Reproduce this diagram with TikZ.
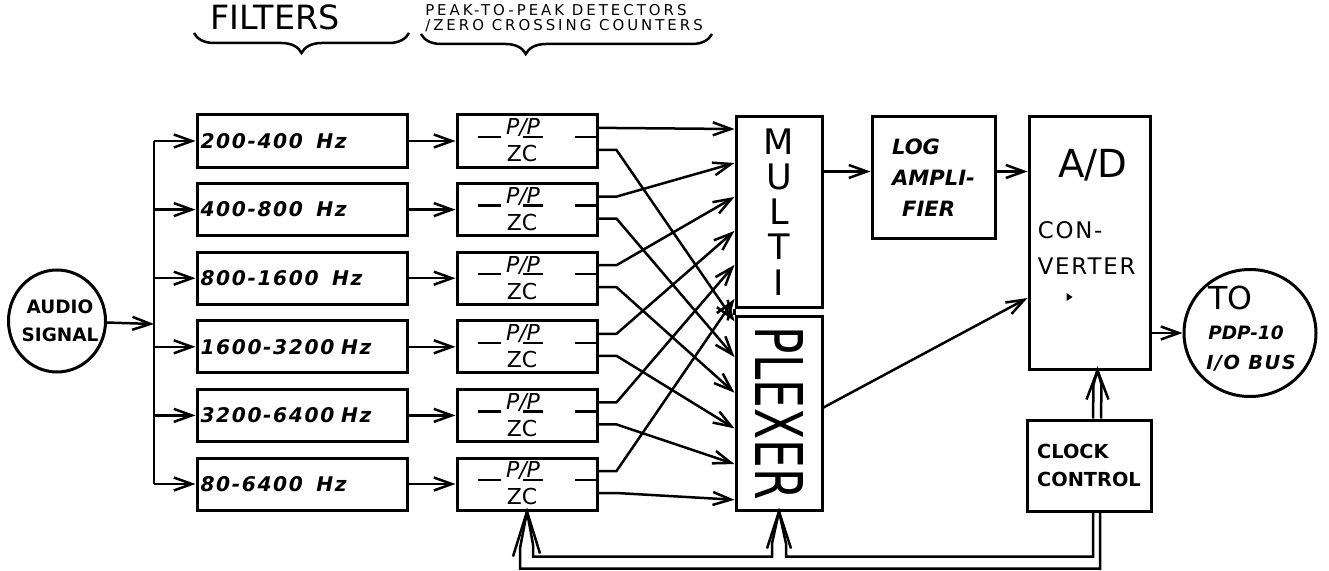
\documentclass[tikz,border=0pt]{standalone}
\usepackage{graphicx}
\usepackage{fontspec}
\setmainfont{DejaVu Sans}
\newfontfamily\widefont[LetterSpace=8]{DejaVu Sans}
\newfontfamily\vwidefont[LetterSpace=20]{DejaVu Sans}
\usetikzlibrary{arrows.meta,positioning,calc,shapes.geometric,decorations.pathreplacing}

\begin{document}
\begin{tikzpicture}[x=0.2mm,y=-0.2mm,>={Straight Barb[length=3.6mm,width=2.6mm]},line width=0.5mm]
\tikzstyle{blk}=[draw,line width=0.6mm,inner sep=0pt]
\tikzstyle{lbl}=[inner sep=0pt]
\tikzstyle{filt}=[blk,minimum height=10.4mm,text width=40.6mm,inner xsep=0.7mm,align=left,font=\widefont\bfseries\itshape\fontsize{11.5}{12}\selectfont]
\tikzstyle{pzbox}=[blk,minimum width=28mm,minimum height=10.4mm]
\tikzstyle{rnd}=[blk,ellipse]

\fill[white] (0,0) rectangle (1329,571);
\useasboundingbox (0,0) rectangle (1329,571);

% headings
\node[lbl,font=\fontsize{19}{19}\selectfont] (hfilt) at (275,17) {FILTERS};
\node[lbl,anchor=west,align=left,font=\vwidefont\fontsize{8.5}{8.8}\selectfont] (hpp) at (424,18) {PEAK-TO-PEAK DETECTORS\\/ZERO CROSSING COUNTERS};
\draw[decorate,decoration={brace,mirror,amplitude=4mm}] (194,33) -- (409,33);
\draw[decorate,decoration={brace,mirror,amplitude=4mm,aspect=0.36}] (421,34) -- (712,34);

% input and filter bank
\node[rnd,minimum width=19.4mm,minimum height=20.4mm] (audio) at (57,321) {};
\node[lbl,align=center,font=\bfseries\fontsize{10.5}{16}\selectfont] (audiotxt) at (60,321) {AUDIO\\SIGNAL};
\coordinate (bus) at (154,324);
\foreach \lab [count=\i] in {200-400~ Hz,400-800~ Hz,800-1600~ Hz,1600-3200 Hz,3200-6400 Hz,80-6400~ Hz} {
  \node[filt] (f\i) at (302,{141+68.6*(\i-1)}) {\lab};
  \node[pzbox] (pz\i) at (527,{141+68.6*(\i-1)}) {};
  \node[lbl,font=\itshape\fontsize{12.5}{12.5}\selectfont] (pp\i) at ([shift={(-4,-13)}]pz\i.center) {P/P};
  \node[lbl,font=\fontsize{12.5}{12.5}\selectfont] (zc\i) at ([shift={(-5,13)}]pz\i.center) {ZC};
  \draw ([shift={(22,-4)}]pz\i.west) -- ++(23,0);
  \draw ([shift={(-4,-4)}]pz\i.center) -- ++(20,0);
  \draw ([shift={(-24,-4)}]pz\i.east) -- ++(24,0);
}

% multiplexer
\node[blk,minimum width=17.2mm,minimum height=38mm,align=center,font=\fontsize{20}{20}\selectfont] (multi) at (779,212) {M\\U\\L\\T\\I};
\node[blk,minimum width=17.2mm,minimum height=38.6mm] (plexer) at (779,413.5) {\rotatebox{-90}{\resizebox{34.6mm}{9.6mm}{PLEXER}}};
\draw[line width=0.6mm] (multi.south west) -- (plexer.north west);

% log amp, converter, output
\node[blk,minimum width=24.6mm,minimum height=24.2mm,align=left,font=\bfseries\itshape\fontsize{12}{17.5}\selectfont] (logamp) at (933.5,177.5) {LOG\\AMPLI-\\\hspace*{2mm}FIER};
\node[blk,minimum width=24.2mm,minimum height=50.4mm] (adc) at (1089.5,243) {};
\node[lbl,font=\fontsize{22}{22}\selectfont] (adtxt) at (1093,165) {A/D};
\node[lbl,anchor=west,align=left,font=\widefont\fontsize{13}{20}\selectfont] (cnvtxt) at ([shift={(9,5)}]adc.west) {CON-\\VERTER};
\fill ([shift={(-23,50)}]adc.center) -- ++(6,4) -- ++(-6,4) -- cycle;
\node[rnd,minimum width=26.4mm,minimum height=25.4mm] (pdp) at (1250,333) {};
\node[lbl,anchor=west,font=\fontsize{18}{18}\selectfont] (totxt) at ([shift={(-43,-35)}]pdp.center) {TO};
\node[lbl,anchor=west,font=\bfseries\itshape\fontsize{10.5}{10.5}\selectfont] (pdptxt) at ([shift={(-43,0)}]pdp.center) {PDP-10};
\node[lbl,anchor=west,font=\widefont\bfseries\itshape\fontsize{11}{11}\selectfont] (iotxt) at ([shift={(-45,30)}]pdp.center) {I/O BUS};
\node[blk,minimum width=24.8mm,minimum height=18.2mm,align=left,font=\bfseries\fontsize{11}{16}\selectfont] (clock) at (1089,465.5) {CLOCK\\CONTROL};

% signal paths
\draw[->] (audio) -- (bus);
\draw (f1.west -| bus) -- (f6.west -| bus);
\foreach \i in {1,...,6} {
  \draw[->] (f\i.west -| bus) -- (f\i);
  \draw[->] (f\i) -- (pz\i);
  \draw[->] ([shift={(0,-13)}]pz\i.east) -- ++(18,0) -- ($(multi.north west)!{0.07+0.176*(\i-1)}!(multi.south west)$);
  \draw[->] ([shift={(0,9)}]pz\i.east) -- ++(18,0) -- ($(plexer.north west)!{0.03+0.182*(\i-1)}!(plexer.south west)$);
}
\coordinate (login) at ([shift={(0,-6)}]logamp.west);
\draw[->] (multi.east |- login) -- (login);
\draw[->] (logamp.east |- login) -- (adc.west |- login);
\draw[->] ([shift={(0,-6)}]plexer.east) -- ([shift={(0,55)}]adc.west);
\draw[->] (adc.east |- pdp.west) -- (pdp.west);

% clock lines
\draw ([shift={(4,0)}]clock.north) -- ([shift={(4,14)}]adc.south) -- ([shift={(8,0)}]adc.south) -- ([shift={(12,14)}]adc.south) -- ([shift={(12,0)}]clock.north);
\draw ([shift={(-3,29)}]adc.south) -- ([shift={(8,0)}]adc.south) -- ([shift={(19,29)}]adc.south);
\draw ([shift={(11,0)}]clock.south) |- ([shift={(-7,57)}]pz6.south) -- ++(0,-20) -- (pz6.south);
\draw ([shift={(4,0)}]clock.south) |- ([shift={(7,45)}]plexer.south) -- ++(0,-13) -- (plexer.south);
\draw (plexer.south) -- ++(-7,32) |- ([shift={(6,45)}]pz6.south) -- ++(0,-12) -- (pz6.south);
\draw ([shift={(-14,45)}]pz6.south) -- (pz6.south) -- ([shift={(13,42)}]pz6.south);
\draw ([shift={(-12,37)}]plexer.south) -- (plexer.south) -- ([shift={(12,37)}]plexer.south);
\end{tikzpicture}
\end{document}
